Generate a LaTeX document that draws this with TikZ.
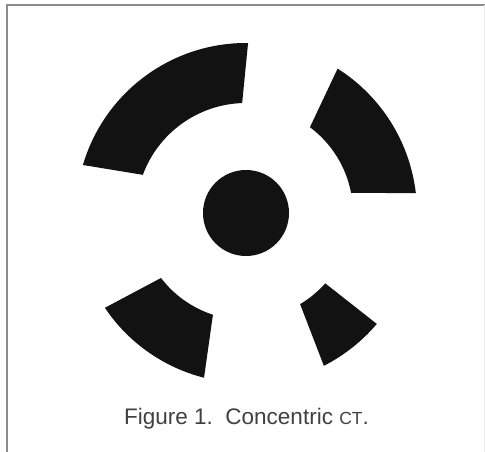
\documentclass[tikz,border=0pt]{standalone}
\usepackage{fontspec}
\setmainfont{Liberation Sans}
\begin{document}
\begin{tikzpicture}[x=1pt,y=1pt,
  blob/.style={fill=black!93},
  frameline/.style={draw=black!45,line width=1.4pt},
  caption/.style={text=black!75,font=\fontsize{22.5}{26}\selectfont,anchor=base west,inner sep=0pt}]
\useasboundingbox (0,0) rectangle (485,452);
\fill[white] (0,0) rectangle (485,452);
% frame (top and left visible)
\draw[frameline] (7,0) -- (7,447) -- (485,447);
\draw[draw=black!8,line width=0.8pt] (484,447) -- (484,0);
\begin{scope}[shift={(246,239)}]
  \fill[blob] (0,0) circle[radius=43];
  % top-left
  \fill[blob] (92:110) arc[start angle=92,end angle=159.7,radius=110] -- (163.6:170) arc[start angle=163.6,end angle=89.3,radius=170] -- cycle;
  % top-right
  \fill[blob] (10.8:107) arc[start angle=10.8,end angle=53.3,radius=107] -- (57.6:171) arc[start angle=57.6,end angle=6.7,radius=171] -- cycle;
  % bottom-left
  \fill[blob] (217.4:107) arc[start angle=217.4,end angle=252,radius=107] -- (255.7:170) arc[start angle=255.7,end angle=213.9,radius=170] -- cycle;
  % bottom-right
  \fill[blob] (300.7:106) arc[start angle=300.7,end angle=318.4,radius=106] -- (319.7:171.5) arc[start angle=319.7,end angle=297,radius=171.5] -- cycle;
\end{scope}
\node[caption] (cap) at (124,27) {Figure 1.\ \ Concentric {\fontsize{17.5}{20}\selectfont CT}.};
\end{tikzpicture}
\end{document}
